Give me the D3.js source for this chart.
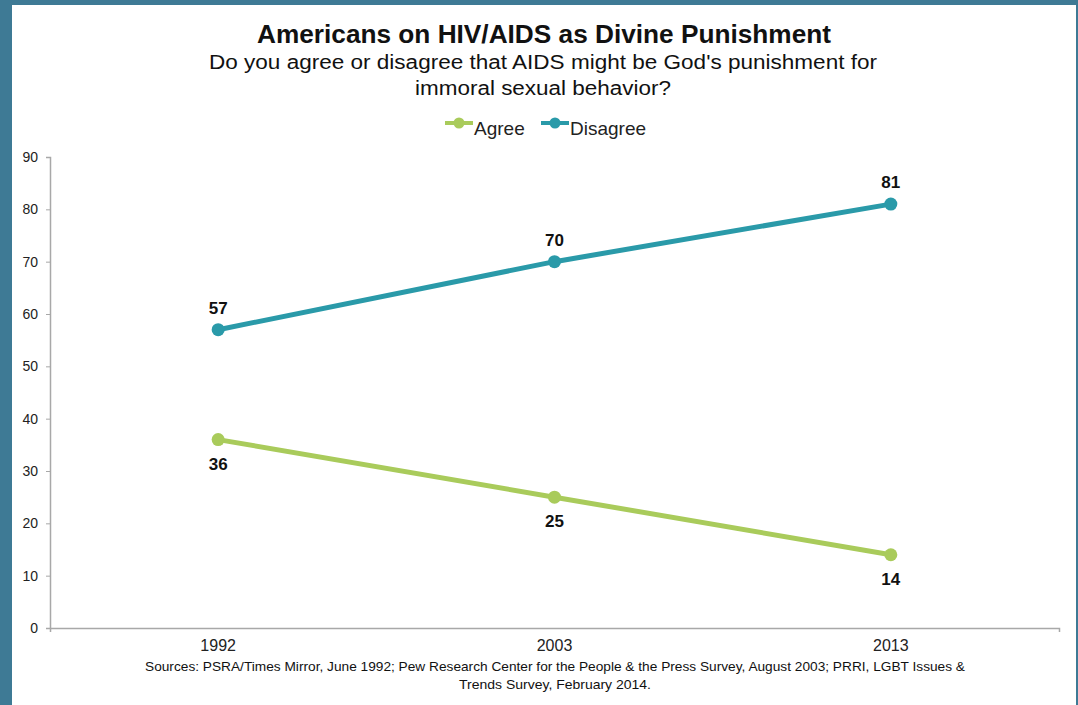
<!DOCTYPE html>
<html>
<head>
<meta charset="utf-8">
<script src="https://cdn.jsdelivr.net/npm/d3@7"></script>
<style>
  html, body { margin: 0; padding: 0; background: #3e7a95; }
  text { font-family: "Liberation Sans", Arial, sans-serif; }
</style>
</head>
<body>
<div id="graphique"></div>
<script>
var annees = ["1992", "2003", "2013"];
var valeursAgree = [36, 25, 14];
var valeursDisagree = [57, 70, 81];
var graduationsY = [0, 10, 20, 30, 40, 50, 60, 70, 80, 90];
var sourcesLignes = [
    "Sources: PSRA/Times Mirror, June 1992; Pew Research Center for the People & the Press Survey, August 2003; PRRI, LGBT Issues &",
    "Trends Survey, February 2014."
];

var largeur = 1078, hauteur = 705;
var vert = "#a9cb5b", bleu = "#2a9aa9";

var svg = d3.select("#graphique").append("svg")
    .attr("width", largeur).attr("height", hauteur);

// fond blanc (cadre bleu autour)
svg.append("rect").attr("x", 12).attr("y", 5)
    .attr("width", 1064).attr("height", 700).attr("fill", "#ffffff");

var x = d3.scaleBand().domain(annees).range([50, 1059]).padding(0);
var y = d3.scaleLinear().domain([0, 90]).range([628, 157]);

// titres
svg.append("text").attr("x", 544).attr("y", 43).attr("text-anchor", "middle")
    .attr("font-size", 25).attr("font-weight", "bold").attr("fill", "#111")
    .attr("textLength", 574).attr("lengthAdjust", "spacingAndGlyphs")
    .text("Americans on HIV/AIDS as Divine Punishment");
svg.append("text").attr("x", 543).attr("y", 69).attr("text-anchor", "middle")
    .attr("font-size", 20).attr("fill", "#111")
    .attr("textLength", 668).attr("lengthAdjust", "spacingAndGlyphs")
    .text("Do you agree or disagree that AIDS might be God's punishment for");
svg.append("text").attr("x", 543).attr("y", 95).attr("text-anchor", "middle")
    .attr("font-size", 20).attr("fill", "#111")
    .attr("textLength", 256).attr("lengthAdjust", "spacingAndGlyphs")
    .text("immoral sexual behavior?");

// axes
var axeY = svg.append("g").attr("transform", "translate(50,0)")
    .call(d3.axisLeft(y).tickValues(graduationsY).tickSize(4).tickPadding(8));
var axeX = svg.append("g").attr("transform", "translate(0,628)")
    .call(d3.axisBottom(x).tickSize(0).tickPadding(12).tickSizeOuter(4));
[axeY, axeX].forEach(function(a) {
    a.select(".domain").attr("stroke", "#a8a8a8").attr("stroke-width", 1.5);
    a.selectAll(".tick line").attr("stroke", "#a8a8a8");
    a.selectAll("text").attr("fill", "#222").attr("font-family", "Liberation Sans, Arial, sans-serif");
});
axeY.selectAll("text").attr("font-size", 14);
axeX.selectAll("text").attr("font-size", 16);

// series
var series = [
    { nom: "Agree", valeurs: valeursAgree, couleur: vert, dy: 30 },
    { nom: "Disagree", valeurs: valeursDisagree, couleur: bleu, dy: -16 }
];
var ligne = d3.line()
    .x(function(d, i) { return x(annees[i]) + x.bandwidth() / 2; })
    .y(function(d) { return y(d); });

series.forEach(function(s) {
    svg.append("path").attr("d", ligne(s.valeurs))
        .attr("fill", "none").attr("stroke", s.couleur).attr("stroke-width", 5);
    s.valeurs.forEach(function(v, i) {
        var cx = x(annees[i]) + x.bandwidth() / 2;
        svg.append("circle").attr("cx", cx).attr("cy", y(v)).attr("r", 6.5)
            .attr("fill", s.couleur);
        svg.append("text").attr("x", cx).attr("y", y(v) + s.dy)
            .attr("text-anchor", "middle").attr("font-size", 17)
            .attr("font-weight", "bold").attr("fill", "#111").text(v);
    });
});

// legende
var legende = [{ nom: "Agree", couleur: vert, x: 445 }, { nom: "Disagree", couleur: bleu, x: 541 }];
legende.forEach(function(l) {
    svg.append("line").attr("x1", l.x).attr("x2", l.x + 28).attr("y1", 123).attr("y2", 123)
        .attr("stroke", l.couleur).attr("stroke-width", 4);
    svg.append("circle").attr("cx", l.x + 14).attr("cy", 123).attr("r", 5.5).attr("fill", l.couleur);
    svg.append("text").attr("x", l.x + 29).attr("y", 135).attr("font-size", 19)
        .attr("fill", "#222").text(l.nom);
});

// sources
svg.append("text").attr("x", 555).attr("y", 671).attr("text-anchor", "middle")
    .attr("font-size", 13).attr("fill", "#111")
    .attr("textLength", 820).attr("lengthAdjust", "spacingAndGlyphs")
    .text(sourcesLignes[0]);
svg.append("text").attr("x", 555).attr("y", 689).attr("text-anchor", "middle")
    .attr("font-size", 13).attr("fill", "#111")
    .attr("textLength", 192).attr("lengthAdjust", "spacingAndGlyphs")
    .text(sourcesLignes[1]);
</script>
</body>
</html>
